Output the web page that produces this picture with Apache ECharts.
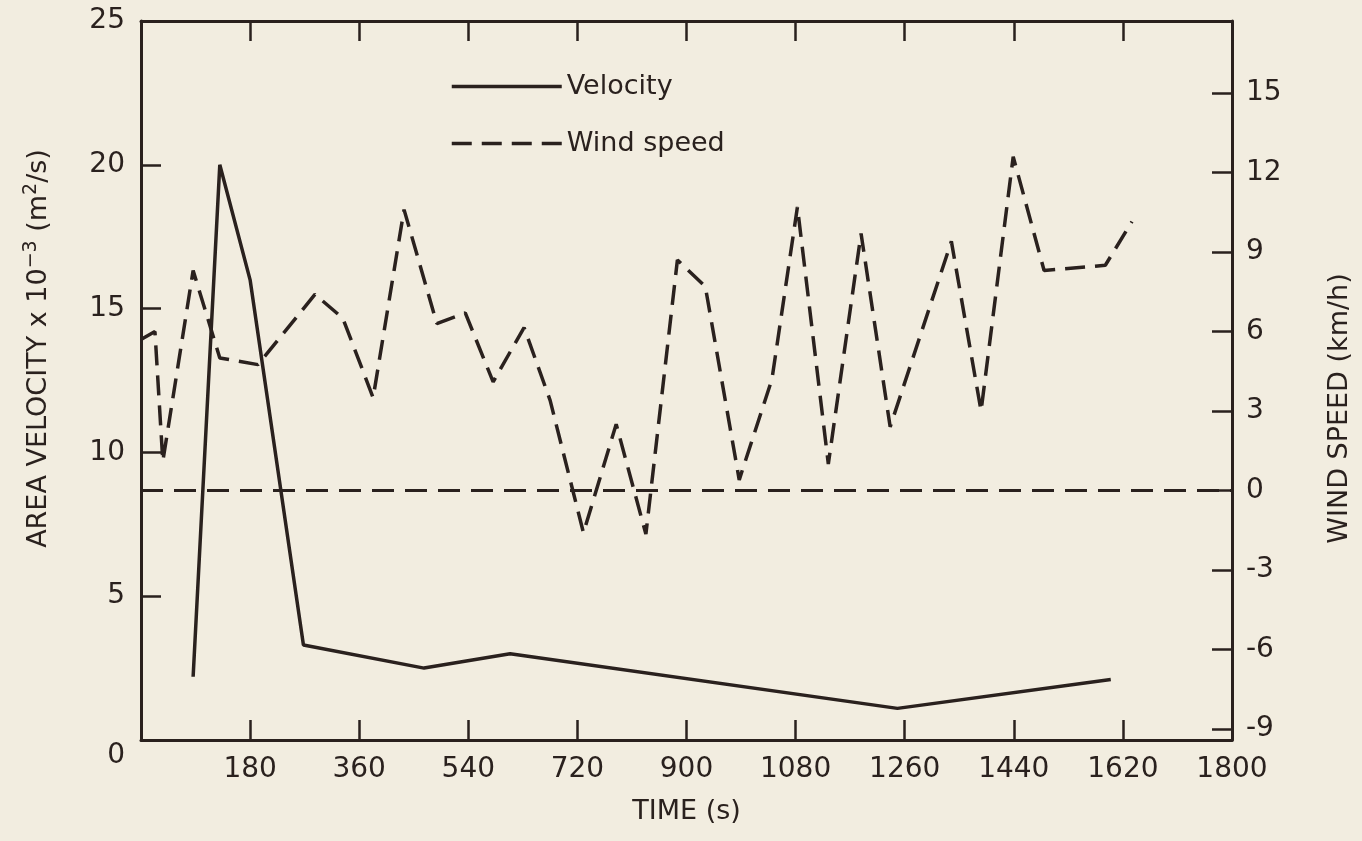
<!DOCTYPE html>
<html>
<head>
<meta charset="utf-8">
<script src="https://cdn.jsdelivr.net/npm/echarts@6/dist/echarts.min.js"></script>
<style>
html,body{margin:0;padding:0;background:#f2ede0;}
#c{width:1362px;height:841px;}
</style>
</head>
<body>
<div id="c"></div>
<script>
// Data
const velTime = [86, 130, 180, 268, 467, 609, 1248, 1600];
const velValue = [2.2, 20.0, 16.0, 3.3, 2.5, 3.0, 1.1, 2.1];
const windTime = [0, 23, 36, 86, 130, 193, 287, 333, 383, 434, 488, 535, 581, 632, 675, 730, 784, 833, 885, 931, 987, 1041, 1083, 1134, 1188, 1236, 1337, 1386, 1439, 1490, 1591, 1635];
const windValue = [5.7, 6.0, 1.1, 8.3, 5.0, 4.75, 7.4, 6.5, 3.5, 10.6, 6.3, 6.7, 4.1, 6.15, 3.4, -1.6, 2.5, -1.65, 8.7, 7.7, 0.4, 4.2, 10.7, 1.0, 9.7, 2.4, 9.4, 3.0, 12.6, 8.3, 8.5, 10.15];
const windTicks = [-9, -6, -3, 0, 3, 6, 9, 12, 15];
const seriesNames = ['Velocity', 'Wind speed'];

const ink = '#2a211e';
const font = 'DejaVu Sans';
const chart = echarts.init(document.getElementById('c'), null, {renderer: 'canvas'});

const velData = velTime.map((t, i) => [t, velValue[i]]);
const windData = windTime.map((t, i) => [t, windValue[i]]);

const axisLine = {show: true, onZero: false, lineStyle: {color: ink, width: 3}};
const tick = {show: true, inside: true, length: 20, lineStyle: {color: ink, width: 2.5}};
const lbl = {color: ink, fontFamily: font, fontSize: 28};

chart.setOption({
  backgroundColor: '#f2ede0',
  animation: false,
  grid: {left: 141, right: 130, top: 21, bottom: 101, containLabel: false},
  legend: {
    orient: 'vertical', left: 445, top: 66,
    itemWidth: 110, itemHeight: 16, itemGap: 26, itemTextGap: 14,
    itemStyle: {opacity: 0},
    lineStyle: {width: 3.5},
    textStyle: {color: ink, fontFamily: font, fontSize: 27, lineHeight: 31},
    data: seriesNames
  },
  xAxis: [{
    type: 'value', min: 0, max: 1800, interval: 180, position: 'bottom',
    name: 'TIME (s)', nameLocation: 'middle', nameGap: 58,
    nameTextStyle: {color: ink, fontFamily: font, fontSize: 27},
    axisLine: axisLine, axisTick: tick,
    axisLabel: Object.assign({margin: 16, showMinLabel: false, showMaxLabel: true,
      formatter: v => String(v)}, lbl),
    splitLine: {show: false}
  }, {
    type: 'value', min: 0, max: 1800, interval: 180, position: 'top',
    axisLine: axisLine, axisTick: tick, axisLabel: {show: false}, splitLine: {show: false}
  }],
  yAxis: [{
    type: 'value', min: 0, max: 25, interval: 5, position: 'left',
    name: '{t|AREA VELOCITY x 10}{s|\u22123}{t| (m}{s|2}{t|/s)}',
    nameLocation: 'middle', nameRotate: 90, nameGap: 86,
    nameTextStyle: {
      color: ink, fontFamily: font, fontSize: 27, padding: [0, 0, 0, 64],
      rich: {
        t: {color: ink, fontFamily: font, fontSize: 27},
        s: {color: ink, fontFamily: font, fontSize: 19, verticalAlign: 'top', padding: [0, 0, 14, 0]}
      }
    },
    axisLine: axisLine, axisTick: tick,
    axisLabel: Object.assign({margin: 16,
      formatter: v => v === 0 ? '{z|0}' : String(v),
      rich: {z: {color: ink, fontFamily: font, fontSize: 28, padding: [32, 0, 0, 0]}}}, lbl),
    splitLine: {show: false}
  }, {
    type: 'value', min: -9.42, max: 17.72, position: 'right',
    name: 'WIND SPEED (km/h)', nameLocation: 'middle', nameRotate: 90, nameGap: 94,
    nameTextStyle: {color: ink, fontFamily: font, fontSize: 27, padding: [0, 56, 0, 0]},
    axisLine: axisLine,
    axisTick: Object.assign({customValues: windTicks}, tick),
    axisLabel: Object.assign({margin: 14, customValues: windTicks}, lbl),
    splitLine: {show: false}
  }],
  series: [{
    name: seriesNames[0], type: 'line', xAxisIndex: 0, yAxisIndex: 0,
    data: velData, symbol: 'none', showSymbol: false,
    lineStyle: {color: ink, width: 3.5, type: 'solid'}, itemStyle: {color: ink}
  }, {
    name: seriesNames[1], type: 'line', xAxisIndex: 0, yAxisIndex: 1,
    data: windData, symbol: 'none', showSymbol: false,
    lineStyle: {color: ink, width: 3.5, type: [20, 10]}, itemStyle: {color: ink},
    markLine: {
      silent: true, symbol: ['none', 'none'], label: {show: false},
      lineStyle: {color: ink, width: 3, type: [22, 11]},
      data: [{yAxis: 0}]
    }
  }]
});
</script>
</body>
</html>
